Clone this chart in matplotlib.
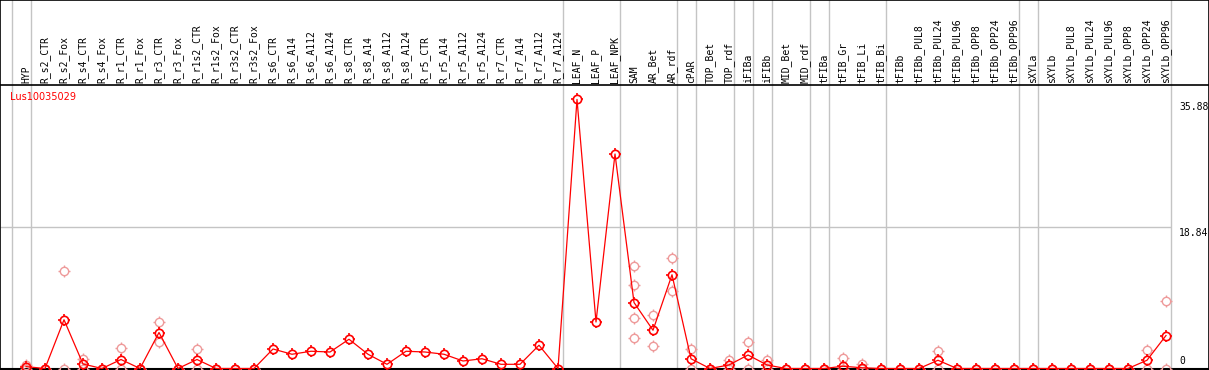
import matplotlib
matplotlib.use("Agg")
import matplotlib.pyplot as plt
from matplotlib.path import Path
import numpy as np

gene = "Lus10035029"

samples = ["HYP",
           "R_s2_CTR", "R_s2_Fox", "R_s4_CTR", "R_s4_Fox", "R_r1_CTR", "R_r1_Fox",
           "R_r3_CTR", "R_r3_Fox", "R_r1s2_CTR", "R_r1s2_Fox", "R_r3s2_CTR", "R_r3s2_Fox",
           "R_s6_CTR", "R_s6_A14", "R_s6_A112", "R_s6_A124",
           "R_s8_CTR", "R_s8_A14", "R_s8_A112", "R_s8_A124",
           "R_r5_CTR", "R_r5_A14", "R_r5_A112", "R_r5_A124",
           "R_r7_CTR", "R_r7_A14", "R_r7_A112", "R_r7_A124",
           "LEAF_N", "LEAF_P", "LEAF_NPK",
           "SAM", "AR_Bet", "AR_rdf", "cPAR", "TOP_Bet", "TOP_rdf",
           "iFIBa", "iFIBb", "MID_Bet", "MID_rdf", "tFIBa",
           "tFIB_Gr", "tFIB_Li", "tFIB_Bi",
           "tFIBb", "tFIBb_PUL8", "tFIBb_PUL24", "tFIBb_PUL96",
           "tFIBb_OPP8", "tFIBb_OPP24", "tFIBb_OPP96",
           "sXYLa",
           "sXYLb", "sXYLb_PUL8", "sXYLb_PUL24", "sXYLb_PUL96",
           "sXYLb_OPP8", "sXYLb_OPP24", "sXYLb_OPP96"]

# sizes of the tissue groups (separated by grey lines)
group_sizes = [1, 28, 3, 3, 1, 2, 1, 1, 2, 1, 3, 7, 1, 7]

means = [0.25,
         0, 6.5, 0.6, 0, 1.2, 0, 4.8, 0, 1.2, 0, 0, 0,
         2.6, 1.9, 2.3, 2.2, 3.9, 1.9, 0.56, 2.3,
         2.2, 1.9, 1.0, 1.3, 0.56, 0.56, 3.1, 0,
         35.88, 6.2, 28.6,
         8.8, 5.1, 12.5, 1.3, 0, 0.47,
         1.8, 0.47, 0, 0, 0,
         0.3, 0.1, 0,
         0, 0, 1.1, 0, 0, 0, 0,
         0,
         0, 0, 0, 0, 0, 1.1, 4.4]

replicates = [[0.5, 0],
              [0, 0], [13.0, 0], [1.3, 0], [0, 0], [2.7, 0], [0, 0], [6.2, 3.6], [0, 0],
              [2.6, 0], [0, 0], [0, 0], [0, 0],
              [], [], [], [], [], [], [], [], [], [], [], [], [], [], [], [],
              [], [], [],
              [13.7, 11.2, 6.8, 4.1], [7.2, 3.0], [14.7, 10.3], [2.6, 0], [0, 0], [1.1, 0],
              [3.6, 0], [1.1, 0], [0, 0], [0, 0], [0, 0],
              [1.36, 0], [0.64, 0], [0, 0],
              [0, 0], [0, 0], [2.4, 0], [0, 0], [0, 0], [0, 0], [0, 0],
              [0, 0],
              [0, 0], [0, 0], [0, 0], [0, 0], [0, 0], [2.5, 0], [9.0, 0]]

ymax_label = 35.88
ymid_label = 18.84

# four little ticks around the circle markers
tk = 1.4
ticks = Path([(0, 1), (0, tk), (0, -1), (0, -tk), (1, 0), (tk, 0), (-1, 0), (-tk, 0)],
             [Path.MOVETO, Path.LINETO] * 4)
ms = 6.0

W, H = 1209, 370
px_per_unit = 7.5
x0, dx = 26, 19          # pixel of first sample, pixel step
y0 = 368.5               # pixel (from top) of value 0

fig = plt.figure(figsize=(W / 100, H / 100), dpi=100)
ax = fig.add_axes([0, 0, 1, 1])
ax.set_xlim(-x0 / dx, (W - x0) / dx)
ax.set_ylim((y0 - H) / px_per_unit, y0 / px_per_unit)
ax.set_xticks([])
ax.set_yticks([])
for s in ax.spines.values():
    s.set_color("black")
    s.set_linewidth(1.2)

n = len(samples)
xs = np.arange(n)
grey = "#c4c4c4"

# group separators
bounds = np.concatenate([[-1], np.cumsum(group_sizes) - 1])
for b in bounds:
    ax.axvline(b + 5 / dx, color=grey, lw=1, zorder=1)

top_v = (y0 - 85) / px_per_unit
ax.axhline(top_v, color="black", lw=1.2, zorder=3)
ax.axhline(0, color="black", lw=1.5, zorder=3)
ax.hlines(ymid_label, -x0 / dx, bounds[-1] + 5 / dx, color=grey, lw=1, zorder=1)

# sample labels
for i, lab in enumerate(samples):
    ax.text(i, (y0 - 83) / px_per_unit, lab, rotation=90, ha="center", va="bottom",
            family="DejaVu Sans Mono", fontsize=7, color="black")


def draw_pts(x, y, col, mew, z):
    ax.plot(x, y, ls="none", marker="o", ms=ms, mfc="none", mec=col, mew=mew,
            zorder=z, clip_on=False)
    ax.plot(x, y, ls="none", marker=ticks, ms=ms * tk, mfc="none", mec=col, mew=mew,
            zorder=z, clip_on=False)


# replicates
for i, reps in enumerate(replicates):
    if reps:
        draw_pts([i] * len(reps), reps, "#ee9a9a", 1.0, 4)

ax.plot(xs, means, color="red", lw=0.9, zorder=5, clip_on=False)
draw_pts(xs, means, "red", 1.2, 6)

ax.text(-16 / dx, (y0 - 97) / px_per_unit, gene, color="red", fontsize=7,
        family="DejaVu Sans", ha="left", va="center")

xl = (1179 - x0) / dx
ax.text(xl, ymax_label - 0.3, f"{ymax_label:.2f}", family="DejaVu Sans Mono", fontsize=7,
        ha="left", va="top")
ax.text(xl, ymid_label - 0.1, f"{ymid_label:.2f}", family="DejaVu Sans Mono", fontsize=7,
        ha="left", va="top")
ax.text(xl, 0.3, "0", family="DejaVu Sans Mono", fontsize=7, ha="left", va="bottom")

fig.savefig("out.png", dpi=100)
